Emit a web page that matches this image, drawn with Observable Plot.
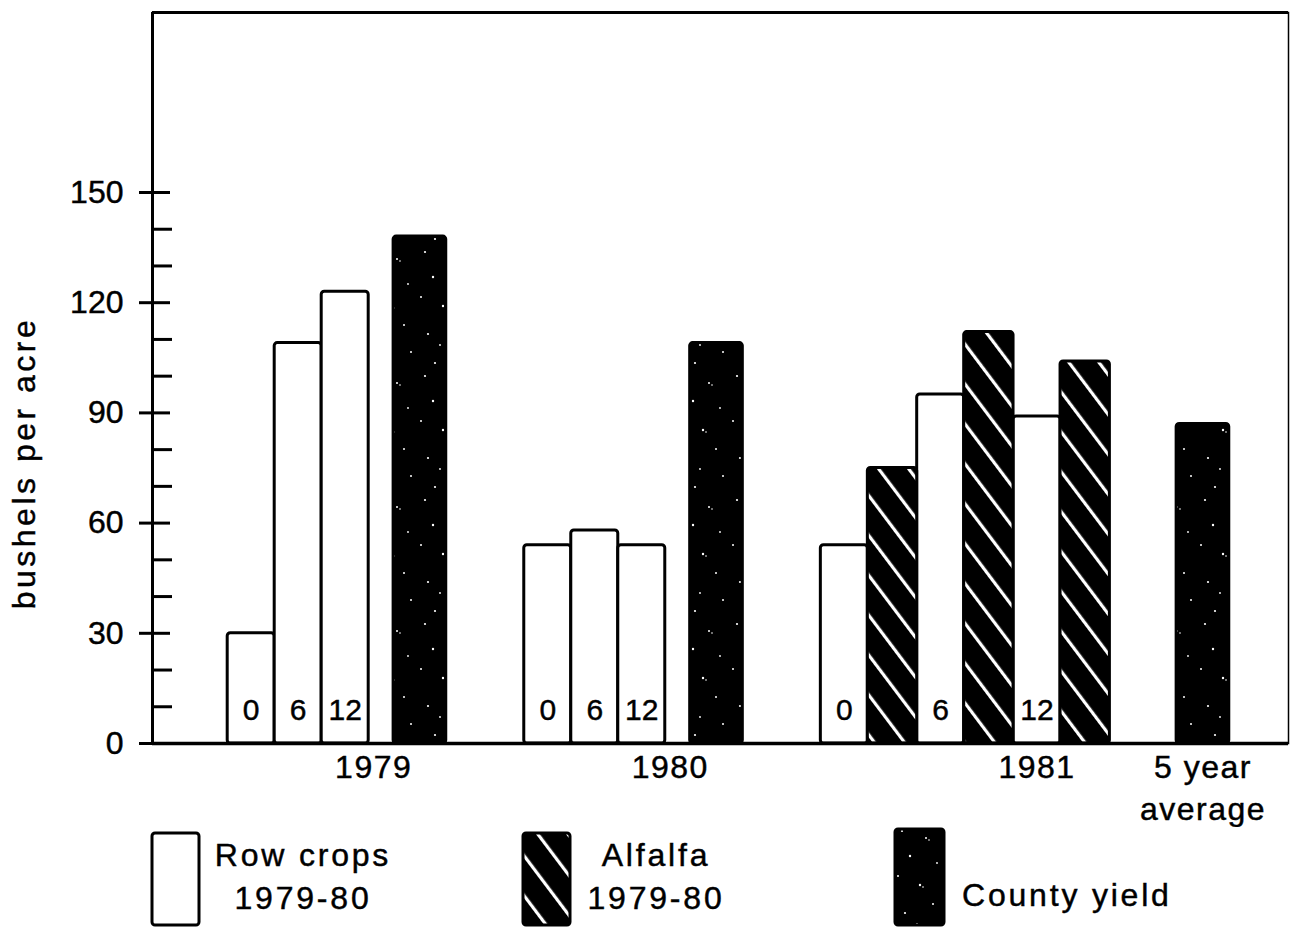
<!DOCTYPE html>
<html><head><meta charset="utf-8">
<script src="https://cdn.jsdelivr.net/npm/d3@7"></script>
<script src="https://cdn.jsdelivr.net/npm/@observablehq/plot@0.6"></script>
<style>
body{margin:0;background:#fff;}
#wrap{position:relative;width:1291px;height:927px;overflow:hidden;font-family:"Liberation Sans",Arial,Helvetica,sans-serif;color:#000;background:#fff;}
#chart{position:absolute;left:0;top:0;}
#chart text{stroke:#000;stroke-width:0.45px;}
.lg{position:absolute;font-size:32px;line-height:43px;text-align:center;white-space:nowrap;letter-spacing:2.8px;-webkit-text-stroke:0.45px #000;}
.sw{position:absolute;overflow:visible;}
</style></head><body>
<div id="wrap">
<div id="chart"></div>
<svg class="sw" style="left:150px;top:831px" width="52" height="96"><rect x="2" y="2" width="47" height="92" rx="3" fill="white" stroke="black" stroke-width="3"/></svg>
<div class="lg" style="left:153px;top:834px;width:300px">Row crops<br>1979-80</div>
<svg class="sw" style="left:521px;top:831px" width="52" height="96"><rect x="2" y="2" width="47" height="92" rx="3" fill="url(#alfalfaPattern)" stroke="black" stroke-width="3"/></svg>
<div class="lg" style="left:506px;top:834px;width:300px">Alfalfa<br>1979-80</div>
<svg class="sw" style="left:893px;top:827px" width="54" height="100"><rect x="2" y="2" width="49" height="96" rx="3" fill="url(#countyPattern)" stroke="black" stroke-width="3"/></svg>
<div class="lg" style="left:962px;top:874px;text-align:left">County yield</div>
</div>
<script>
// ---- data ----
const groups = ["1979", "1980", "1981", "5 year\naverage"];
const rates = ["0", "6", "12"];
const rowCrops1979 = [30, 109, 123];
const rowCrops1980 = [54, 58, 54];
const rowCrops1981 = [54, 95, 89];
const alfalfa1981 = [75, 112, 104];
const countyGroups = ["1979", "1980", "5 year\naverage"];
const countyYield = [138, 109, 87];
const majorTicks = [0, 30, 60, 90, 120, 150];
const minorTicks = [10, 20, 40, 50, 70, 80, 100, 110, 130, 140];
const yLabel = "bushels per acre";

// ---- layout (slot widths, in bar units) ----
const widths = {row: 1, alfalfa: 1.05, county: 1.12};
const gaps = {lead: 1.6, inner: 0.53, group: 1.66, beforeAverage: 1.42, tail: 1.26};

const bars = [];
const groupLabels = [];
let s = gaps.lead;
function add(kind, group, value, label) {
  const w = widths[kind];
  bars.push({kind, group, value, label, x1: s, x2: s + w});
  s += w;
}
[[groups[0], rowCrops1979], [groups[1], rowCrops1980]].forEach(([g, vals]) => {
  vals.forEach((v, i) => add("row", g, v, rates[i]));
  groupLabels.push({text: g, x: s + gaps.inner * 0.2});
  s += gaps.inner;
  add("county", g, countyYield[countyGroups.indexOf(g)]);
  s += gaps.group;
});
rowCrops1981.forEach((v, i) => {
  add("row", groups[2], v, rates[i]);
  if (i === 2) groupLabels.push({text: groups[2], x: s - widths.row / 2});
  add("alfalfa", groups[2], alfalfa1981[i]);
});
s += gaps.beforeAverage;
add("county", groups[3], countyYield[countyGroups.indexOf(groups[3])]);
groupLabels.push({text: groups[3], x: s - widths.county / 2});
const total = s + gaps.tail;

const rows = bars.filter(d => d.kind === "row");
const alf = bars.filter(d => d.kind === "alfalfa");
const cty = bars.filter(d => d.kind === "county");

const chart = Plot.plot({
  width: 1291,
  height: 827,
  marginLeft: 152,
  marginRight: 3,
  marginTop: 12,
  marginBottom: 84,
  x: {domain: [0, total], axis: null},
  y: {domain: [0, 199], axis: null},
  style: {fontFamily: '"Liberation Sans", Arial, Helvetica, sans-serif', fontSize: "32px", color: "black", background: "white"},
  marks: [
    Plot.frame({stroke: "black", strokeWidth: 1.5}),
    Plot.ruleX([0], {stroke: "black", strokeWidth: 3}),
    Plot.ruleY([199], {stroke: "black", strokeWidth: 3}),
    Plot.rect(rows, {x1: "x1", x2: "x2", y1: 0, y2: "value", fill: "white", stroke: "black", strokeWidth: 3, rx: 3}),
    Plot.rect(alf, {x1: "x1", x2: "x2", y1: 0, y2: "value", fill: "url(#alfalfaPattern)", stroke: "black", strokeWidth: 3, rx: 3}),
    Plot.rect(cty, {x1: "x1", x2: "x2", y1: 0, y2: "value", fill: "url(#countyPattern)", stroke: "black", strokeWidth: 3, rx: 3}),
    Plot.text(rows, {x: d => (d.x1 + d.x2) / 2, y: 0, text: "label", dy: -24, lineAnchor: "bottom", fontSize: 30}),
    Plot.text(groupLabels, {x: "x", y: 0, text: "text", lineAnchor: "top", lineHeight: 1.31, dy: 5, fontSize: 32}),
    Plot.text([yLabel], {text: d => d, frameAnchor: "left", rotate: -90, dx: -128, dy: 85, textAnchor: "middle", lineAnchor: "middle", fontSize: 32}),
    Plot.ruleY([0], {stroke: "black", strokeWidth: 3.5}),
    Plot.axisY(majorTicks, {tickSize: 0, tickPadding: 29, fontSize: 32, label: null}),
    Plot.axisY(majorTicks, {tickSize: 31, dx: 18, strokeWidth: 3, tickFormat: () => "", label: null}),
    Plot.axisY(minorTicks, {tickSize: 20, dx: 20, strokeWidth: 3, tickFormat: () => "", label: null})
  ]
});

// letter spacing to match the loose phototypeset tracking
const textGroups = chart.querySelectorAll('g[aria-label="text"]');
if (textGroups[1]) textGroups[1].setAttribute("letter-spacing", "1.5");
if (textGroups[2]) textGroups[2].setAttribute("letter-spacing", "3.5");

d3.select(chart).insert("defs", ":first-child").html(`
  <pattern id="alfalfaPattern" patternUnits="userSpaceOnUse" width="24" height="24" patternTransform="rotate(-37)">
    <rect width="24" height="24" fill="black"/>
    <rect x="10" y="0" width="3.2" height="24" fill="white"/>
  </pattern>
  <pattern id="countyPattern" patternUnits="userSpaceOnUse" width="52" height="124">
    <rect width="52" height="124" fill="black"/>
    <g fill="white">
      <circle cx="9" cy="4" r="1.1"/><circle cx="33" cy="11" r="1"/><circle cx="36" cy="13" r="0.8"/>
      <circle cx="17" cy="29" r="1.2"/><circle cx="44" cy="36" r="0.9"/><circle cx="5" cy="49" r="1"/>
      <circle cx="27" cy="58" r="1.2"/><circle cx="30" cy="60" r="0.8"/><circle cx="40" cy="77" r="1"/>
      <circle cx="12" cy="86" r="1.1"/><circle cx="24" cy="97" r="0.9"/><circle cx="47" cy="104" r="1"/>
      <circle cx="19" cy="115" r="1.1"/>
    </g>
  </pattern>`);

document.getElementById("chart").appendChild(chart);
</script>
</body></html>
